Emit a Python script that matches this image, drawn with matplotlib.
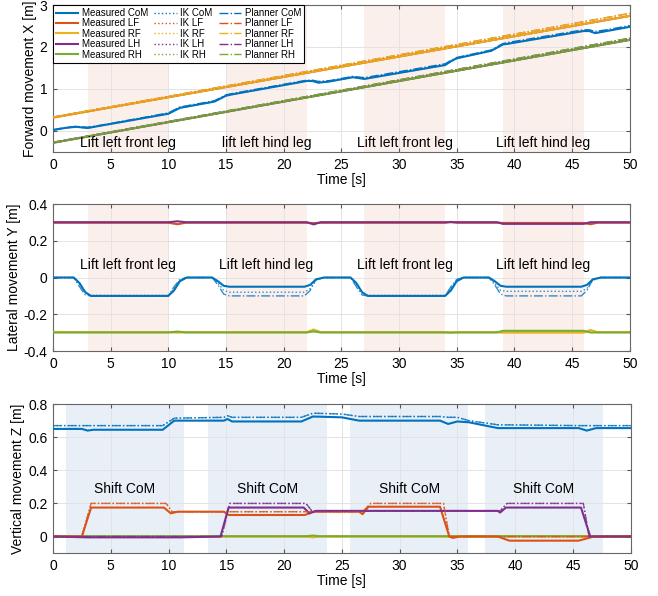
import matplotlib
matplotlib.use('Agg')
import matplotlib.pyplot as plt

plt.rcParams['font.family'] = ['Liberation Sans', 'DejaVu Sans']
plt.rcParams['axes.unicode_minus'] = False

# colours (MATLAB default order)
C_COM, C_LF, C_RF, C_LH, C_RH = '#0072BD', '#D95319', '#EDB120', '#7E2F8E', '#77AC30'

# shaded phases
lift_phases = [(3, 10), (15, 22), (27, 34), (39, 46)]
lift_labels = ['Lift left front leg', 'lift left hind leg', 'Lift left front leg', 'Lift left hind leg']
lift_labels_y = ['Lift left front leg', 'Lift left hind leg', 'Lift left front leg', 'Lift left hind leg']
shift_phases = [(1.1, 11.3), (13.45, 23.7), (25.7, 35.95), (37.4, 47.6)]

# ---------------- X (forward) ----------------
t_x_feet = [0, 50]
x_front = [0.32, 2.74]
x_front_plan = [0.33, 2.80]
x_hind = [-0.28, 2.17]
x_hind_plan = [-0.27, 2.21]

t_x_com = [0, 1, 2, 3, 4, 10, 10.5, 11, 14, 15, 15.5, 22, 22.5, 23, 24, 26, 27,
           34, 34.5, 35, 38, 39, 39.5, 46, 46.5, 47, 48, 50]
x_com = [0.02, 0.07, 0.10, 0.07, 0.12, 0.41, 0.48, 0.55, 0.70, 0.84, 0.87, 1.19, 1.19,
         1.15, 1.18, 1.28, 1.24, 1.57, 1.66, 1.73, 1.91, 2.06, 2.08, 2.38, 2.38, 2.33, 2.38, 2.48]
x_com_plan = [0.03, 0.08, 0.11, 0.09, 0.13, 0.43, 0.50, 0.57, 0.72, 0.86, 0.89, 1.21, 1.21,
              1.18, 1.20, 1.30, 1.27, 1.60, 1.68, 1.75, 1.93, 2.08, 2.11, 2.41, 2.41, 2.37, 2.41, 2.51]

# ---------------- Y (lateral) ----------------
t_y_com = [0, 1.8, 2.3, 2.8, 3.3, 10, 10.5, 11, 11.6, 13.8, 14.3, 14.8, 15.3, 21.8, 22.3,
           22.8, 23.5, 25.8, 26.3, 26.8, 27.3, 34, 34.5, 35, 35.6, 37.8, 38.3, 38.8, 39.3,
           45.8, 46.3, 46.8, 47.5, 50]
y_com = [0, 0, -0.03, -0.08, -0.1, -0.1, -0.07, -0.02, 0, 0, -0.02, -0.045, -0.05, -0.05,
         -0.04, -0.01, 0, 0, -0.03, -0.08, -0.1, -0.1, -0.07, -0.02, 0, 0, -0.02, -0.045,
         -0.05, -0.05, -0.04, -0.01, 0, 0]
y_com_ik = [0, 0, -0.035, -0.085, -0.097, -0.097, -0.06, -0.015, 0, 0, -0.03, -0.07, -0.08,
            -0.08, -0.06, -0.015, 0, 0, -0.035, -0.085, -0.097, -0.097, -0.06, -0.015, 0, 0,
            -0.03, -0.07, -0.075, -0.075, -0.06, -0.015, 0, 0]
y_com_plan = [0, 0, -0.05, -0.095, -0.1, -0.1, -0.05, -0.01, 0, 0, -0.04, -0.09, -0.1, -0.1,
              -0.07, -0.01, 0, 0, -0.05, -0.095, -0.1, -0.1, -0.05, -0.01, 0, 0, -0.04,
              -0.09, -0.1, -0.1, -0.07, -0.01, 0, 0]

t_y_feet = [0, 10, 10.8, 11.5, 22, 22.6, 23.2, 34, 34.5, 35, 38.5, 39, 46, 46.6, 47.2, 50]
y_lf = [0.298, 0.298, 0.29, 0.298, 0.298, 0.296, 0.298, 0.298, 0.303, 0.298, 0.298, 0.297,
        0.297, 0.29, 0.298, 0.298]
y_lh = [0.301, 0.301, 0.306, 0.301, 0.301, 0.289, 0.301, 0.301, 0.301, 0.301, 0.301, 0.292,
        0.292, 0.301, 0.301, 0.301]
y_rf = [-0.297, -0.297, -0.3, -0.297, -0.297, -0.283, -0.297, -0.297, -0.3, -0.297, -0.297,
        -0.3, -0.3, -0.285, -0.297, -0.297]
y_rh = [-0.299, -0.299, -0.294, -0.299, -0.299, -0.293, -0.299, -0.299, -0.299, -0.299,
        -0.299, -0.29, -0.29, -0.299, -0.299, -0.299]

# ---------------- Z (vertical) ----------------
t_z_com = [0, 2.5, 3, 3.5, 9.5, 10.5, 14.8, 15.1, 15.5, 21.5, 22.5, 25, 26.5, 33.5, 34.2,
           35, 36, 38.5, 45.5, 46.2, 47, 50]
z_com = [0.65, 0.65, 0.64, 0.645, 0.645, 0.70, 0.70, 0.71, 0.695, 0.695, 0.725, 0.72, 0.70,
         0.70, 0.68, 0.695, 0.69, 0.655, 0.655, 0.64, 0.655, 0.655]
z_com_plan = [0.67, 0.67, 0.67, 0.67, 0.67, 0.715, 0.72, 0.73, 0.72, 0.72, 0.745, 0.74, 0.725,
              0.725, 0.72, 0.72, 0.70, 0.675, 0.67, 0.67, 0.67, 0.67]

t_z_lf = [0, 2.5, 3.3, 9.6, 10.2, 10.8, 14.8, 15.2, 21.8, 22.5, 26.5, 26.8, 27.3, 33.5,
          34.3, 34.6, 35.2, 38.5, 39.5, 45.5, 46.8, 50]
z_lf = [0, 0, 0.175, 0.175, 0.14, 0.15, 0.15, 0.13, 0.13, 0.15, 0.15, 0.135, 0.18, 0.18,
        0.0, -0.008, 0, 0, -0.025, -0.025, 0, 0]
t_z_lf_plan = [0, 2.5, 3.3, 9.8, 10.3, 26.8, 27.5, 33.8, 34.3, 50]
z_lf_plan = [0, 0, 0.2, 0.2, 0.15, 0.15, 0.2, 0.2, 0, 0]

t_z_lh = [0, 3, 10, 11, 14.5, 15.2, 21.7, 22.2, 22.8, 38.5, 38.7, 39.2, 45.7, 46.5, 50]
z_lh = [0, -0.005, -0.005, -0.005, 0, 0.175, 0.175, 0.14, 0.155, 0.155, 0.145, 0.175,
        0.175, 0, 0]
t_z_lh_plan = [0, 14.6, 15.3, 21.9, 22.4, 38.7, 39.3, 45.9, 46.4, 50]
z_lh_plan = [0, 0, 0.2, 0.2, 0.155, 0.155, 0.2, 0.2, 0, 0]

t_z_right = [0, 22, 22.5, 23, 50]
z_rf = [0, 0, -0.005, 0, 0]
z_rh = [0.002, 0.002, 0.006, 0.002, 0.002]

fig = plt.figure(figsize=(6.58, 5.96), dpi=100)
ax1 = fig.add_axes([0.0805, 0.745, 0.8765, 0.2466])
ax2 = fig.add_axes([0.0805, 0.411, 0.8765, 0.2467])
ax3 = fig.add_axes([0.0805, 0.072, 0.8780, 0.250])


def style(ax, ylim, yticks, ylabel):
    ax.set_xlim(0, 50)
    ax.set_ylim(*ylim)
    ax.set_xticks(range(0, 51, 5))
    ax.set_yticks(yticks)
    ax.grid(True, color='#e3e3e3', linewidth=0.7)
    ax.set_axisbelow(True)
    ax.tick_params(direction='in', length=3, top=True, right=True, labelsize=10,
                   color='#555555', pad=4)
    for s in ax.spines.values():
        s.set_color('#666666')
        s.set_linewidth(0.8)
    ax.set_xlabel('Time [s]', fontsize=10, labelpad=1)
    ax.set_ylabel(ylabel, fontsize=10, labelpad=2)


def lines(ax, t, v, color, kind):
    if kind == 'm':
        ax.plot(t, v, color=color, lw=1.5, zorder=3)
    elif kind == 'ik':
        ax.plot(t, v, color=color, lw=1.0, ls=':', alpha=0.8, zorder=4)
    else:
        ax.plot(t, v, color=color, lw=1.0, ls='-.', alpha=0.8, zorder=4)


# shaded phases
for a, b in lift_phases:
    ax1.axvspan(a, b, color='#fbefeb', lw=0, zorder=0)
    ax2.axvspan(a, b, color='#fbefeb', lw=0, zorder=0)
for a, b in shift_phases:
    ax3.axvspan(a, b, color='#e9eff7', lw=0, zorder=0)

# panel 1
h = []
h += ax1.plot(t_x_com, x_com, color=C_COM, lw=1.5, zorder=3, label='Measured CoM')
h += ax1.plot(t_x_feet, x_front, color=C_LF, lw=1.5, zorder=3, label='Measured LF')
h += ax1.plot(t_x_feet, x_front, color=C_RF, lw=1.5, zorder=3, label='Measured RF')
h += ax1.plot(t_x_feet, x_hind, color=C_LH, lw=1.5, zorder=3, label='Measured LH')
h += ax1.plot(t_x_feet, x_hind, color=C_RH, lw=1.5, zorder=3, label='Measured RH')
h += ax1.plot(t_x_com, x_com, color=C_COM, lw=1.0, ls=':', zorder=4, label='IK CoM')
h += ax1.plot(t_x_feet, x_front, color=C_LF, lw=1.0, ls=':', zorder=4, label='IK LF')
h += ax1.plot(t_x_feet, x_front, color=C_RF, lw=1.0, ls=':', zorder=4, label='IK RF')
h += ax1.plot(t_x_feet, x_hind, color=C_LH, lw=1.0, ls=':', zorder=4, label='IK LH')
h += ax1.plot(t_x_feet, x_hind, color=C_RH, lw=1.0, ls=':', zorder=4, label='IK RH')
h += ax1.plot(t_x_com, x_com_plan, color=C_COM, lw=1.0, ls='-.', zorder=4, label='Planner CoM')
h += ax1.plot(t_x_feet, x_front_plan, color=C_LF, lw=1.0, ls='-.', zorder=4, label='Planner LF')
h += ax1.plot(t_x_feet, x_front_plan, color=C_RF, lw=1.0, ls='-.', zorder=4, label='Planner RF')
h += ax1.plot(t_x_feet, x_hind_plan, color=C_LH, lw=1.0, ls='-.', zorder=4, label='Planner LH')
h += ax1.plot(t_x_feet, x_hind_plan, color=C_RH, lw=1.0, ls='-.', zorder=4, label='Planner RH')
style(ax1, (-0.5, 3), [0, 1, 2, 3], 'Forward movement X [m]')
for (a, b), txt in zip(lift_phases, lift_labels):
    ax1.text((a + b) / 2, -0.29, txt, ha='center', va='center', fontsize=10, zorder=5)
leg = ax1.legend(handles=h, ncol=3, loc='upper left', fontsize=7, frameon=True,
                 fancybox=False, edgecolor='black', framealpha=1, borderaxespad=0,
                 handlelength=2.3, columnspacing=0.6, labelspacing=0.05,
                 handletextpad=0.4, borderpad=0.3)
leg.get_frame().set_linewidth(0.8)
leg.set_zorder(10)

# panel 2
lines(ax2, t_y_feet, y_lf, C_LF, 'm')
lines(ax2, t_y_feet, y_lh, C_LH, 'm')
lines(ax2, t_y_feet, y_rf, C_RF, 'm')
lines(ax2, t_y_feet, y_rh, C_RH, 'm')
lines(ax2, t_y_com, y_com, C_COM, 'm')
lines(ax2, t_y_com, y_com_ik, C_COM, 'ik')
lines(ax2, t_y_com, y_com_plan, C_COM, 'p')
style(ax2, (-0.4, 0.4), [-0.4, -0.2, 0, 0.2, 0.4], 'Lateral movement Y [m]')
ax2.set_yticklabels(['-0.4', '-0.2', '0', '0.2', '0.4'])
for (a, b), txt in zip(lift_phases, lift_labels_y):
    ax2.text((a + b) / 2, 0.068, txt, ha='center', va='center', fontsize=10, zorder=5)

# panel 3
lines(ax3, t_z_com, z_com, C_COM, 'm')
lines(ax3, t_z_com, z_com_plan, C_COM, 'p')
lines(ax3, t_z_com, z_com_plan, C_COM, 'ik')
lines(ax3, t_z_right, z_rf, C_RF, 'm')
lines(ax3, t_z_right, z_rh, C_RH, 'm')
lines(ax3, t_z_lf, z_lf, C_LF, 'm')
lines(ax3, t_z_lf_plan, z_lf_plan, C_LF, 'p')
lines(ax3, t_z_lf_plan, z_lf_plan, C_LF, 'ik')
lines(ax3, t_z_lh, z_lh, C_LH, 'm')
lines(ax3, t_z_lh_plan, z_lh_plan, C_LH, 'p')
lines(ax3, t_z_lh_plan, z_lh_plan, C_LH, 'ik')
style(ax3, (-0.1, 0.8), [0, 0.2, 0.4, 0.6, 0.8], 'Vertical movement Z [m]')
ax3.set_yticklabels(['0', '0.2', '0.4', '0.6', '0.8'])
for a, b in shift_phases:
    ax3.text((a + b) / 2, 0.29, 'Shift CoM', ha='center', va='center', fontsize=10, zorder=5)

fig.savefig('out.png', dpi=100)
